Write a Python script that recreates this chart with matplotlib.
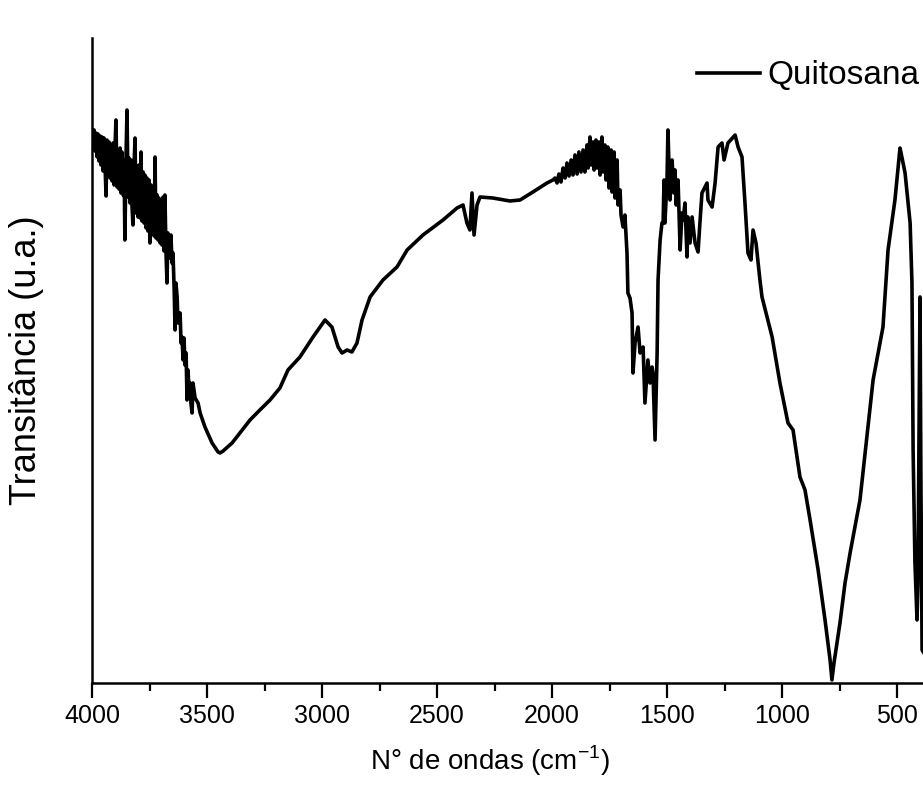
import matplotlib
matplotlib.use("Agg")
import matplotlib.pyplot as plt
from matplotlib.ticker import MultipleLocator

plt.rcParams['font.family'] = ['Liberation Sans', 'DejaVu Sans']

series_name = "Quitosana"
x_label = "N° de ondas (cm$^{\\mathregular{-1}}$)"
y_label = "Transitância (u.a.)"
x_ticks = [4000, 3500, 3000, 2500, 2000, 1500, 1000, 500]

# (wavenumber cm-1, transmittance in arbitrary units)
region_oh = [
    (4000, 553), (3996, 540), (3991, 553), (3987, 532), (3983, 550), (3978, 526),
    (3974, 549), (3970, 522), (3965, 547), (3961, 518), (3957, 546), (3952, 512),
    (3948, 545), (3943, 515), (3939, 487), (3935, 543), (3930, 508), (3926, 541),
    (3922, 505), (3917, 538), (3913, 502), (3909, 540), (3904, 498), (3900, 536),
    (3896, 563), (3891, 496), (3887, 533), (3883, 494), (3878, 535), (3874, 490),
    (3870, 531), (3865, 488), (3861, 523), (3857, 443), (3852, 528), (3848, 573),
    (3843, 486), (3839, 525), (3835, 480), (3830, 523), (3826, 476), (3822, 458),
    (3817, 518), (3813, 545), (3809, 470), (3804, 517), (3800, 466), (3796, 518),
    (3791, 465), (3787, 531), (3783, 462), (3778, 511), (3774, 460), (3770, 508),
    (3765, 455), (3761, 505), (3757, 452), (3752, 503), (3748, 440), (3743, 498),
    (3739, 450), (3735, 495), (3730, 447), (3726, 526), (3722, 445), (3717, 488),
    (3713, 443), (3709, 485), (3704, 440), (3700, 483), (3696, 438), (3691, 486),
    (3687, 432), (3683, 488), (3678, 428), (3674, 400), (3670, 450), (3665, 425),
    (3661, 430), (3657, 448), (3652, 420),
]

region_ch = [
    (3648, 430), (3643, 395), (3639, 353), (3635, 400), (3630, 386), (3626, 360),
    (3617, 370), (3613, 340), (3609, 346), (3604, 323), (3600, 345), (3596, 318),
    (3591, 330), (3587, 283), (3583, 313), (3578, 295), (3574, 300), (3570, 280),
    (3565, 270), (3561, 300), (3552, 285), (3539, 280), (3530, 270), (3509, 256),
    (3478, 240), (3452, 231), (3443, 230), (3430, 232), (3391, 240), (3357, 250),
    (3313, 263), (3270, 273), (3226, 283), (3183, 295), (3148, 313), (3096, 326),
    (3039, 346), (2987, 363), (2957, 356), (2930, 336), (2913, 330), (2891, 333),
    (2870, 331), (2848, 340), (2826, 363), (2791, 386), (2735, 403), (2674, 416),
    (2630, 433), (2561, 448), (2474, 463), (2413, 475), (2387, 478), (2370, 460),
    (2357, 453), (2348, 490), (2339, 448), (2326, 478), (2313, 486), (2257, 485),
    (2183, 482), (2139, 483), (2083, 491), (2022, 500), (1996, 503),
]

region_amide = [
    (1987, 505), (1978, 500), (1970, 509), (1961, 501), (1952, 515), (1943, 505),
    (1935, 520), (1926, 507), (1917, 523), (1909, 508), (1900, 528), (1891, 509),
    (1883, 531), (1874, 511), (1865, 533), (1857, 511), (1848, 538), (1843, 515),
    (1835, 546), (1830, 518), (1822, 541), (1817, 513), (1809, 543), (1804, 515),
    (1796, 541), (1791, 508), (1783, 546), (1778, 511), (1770, 538), (1765, 503),
    (1757, 536), (1752, 495), (1743, 533), (1739, 491), (1730, 531), (1726, 485),
    (1717, 523), (1713, 478), (1704, 493), (1700, 468), (1691, 456), (1683, 468),
    (1674, 430), (1670, 390), (1661, 385), (1652, 370), (1648, 310), (1639, 340),
    (1626, 356), (1617, 330), (1604, 336), (1596, 280), (1583, 323), (1574, 300),
    (1565, 316), (1561, 310), (1552, 243), (1543, 330), (1539, 403), (1530, 443),
    (1522, 460), (1517, 460), (1513, 503), (1509, 460), (1500, 503), (1496, 553),
    (1487, 483), (1478, 523), (1470, 490), (1465, 513), (1460, 478), (1452, 503),
    (1443, 433), (1435, 470), (1430, 463), (1422, 480), (1413, 426), (1409, 466),
    (1400, 440), (1391, 466), (1378, 440), (1365, 431), (1357, 460), (1348, 490),
    (1335, 496), (1326, 500), (1322, 483), (1304, 476), (1291, 500), (1278, 536),
    (1261, 540), (1252, 523), (1235, 540), (1204, 548), (1191, 536), (1174, 526),
    (1161, 480), (1148, 430), (1135, 423), (1126, 453), (1113, 440),
]

region_fingerprint = [
    (1096, 403), (1087, 386), (1043, 346), (1009, 300), (974, 260), (952, 253),
    (922, 206), (900, 193), (878, 163), (843, 113), (813, 63), (791, 23),
    (783, 3), (774, 20), (748, 60), (726, 100), (704, 130), (661, 183),
    (604, 303), (574, 340), (561, 356), (539, 433), (509, 483), (487, 535),
    (478, 525), (465, 510), (443, 460), (435, 400), (430, 233), (422, 120),
    (413, 63), (409, 100), (400, 386), (396, 200), (391, 33), (383, 30),
]

spectrum = region_oh + region_ch + region_amide + region_fingerprint
wavenumber = [p[0] for p in spectrum]
transmittance = [p[1] for p in spectrum]

fig = plt.figure(figsize=(9.23, 7.87), dpi=100)
ax = fig.add_axes([0.0997, 0.1322, 0.9003, 0.8195])
ax.plot(wavenumber, transmittance, color='black', lw=2.6, label=series_name,
        solid_joinstyle='round')
ax.set_xlim(4000, 387)
ax.set_ylim(0, 645)

for s in ['top', 'right']:
    ax.spines[s].set_visible(False)
for s in ['left', 'bottom']:
    ax.spines[s].set_linewidth(1.8)

ax.set_xticks(x_ticks)
ax.set_xticklabels([str(t) for t in x_ticks])
ax.xaxis.set_minor_locator(MultipleLocator(250))
ax.tick_params(axis='x', which='major', direction='out', length=11, width=1.6,
               labelsize=18, pad=4)
ax.tick_params(axis='x', which='minor', direction='out', length=6, width=1.6)
ax.set_yticks([])

ax.set_xlabel(x_label, fontsize=20)
ax.xaxis.set_label_coords(0.479, -0.094)
ax.set_ylabel(y_label, fontsize=26)
ax.yaxis.set_label_coords(-0.058, 0.5)

leg = ax.legend(loc='center left', bbox_to_anchor=(697 / 923, 1 - 76 / 787),
                bbox_transform=fig.transFigure, frameon=False, fontsize=24,
                handlelength=1.9, handletextpad=0.2, borderpad=0, borderaxespad=0)

fig.savefig('out.png', dpi=100)
